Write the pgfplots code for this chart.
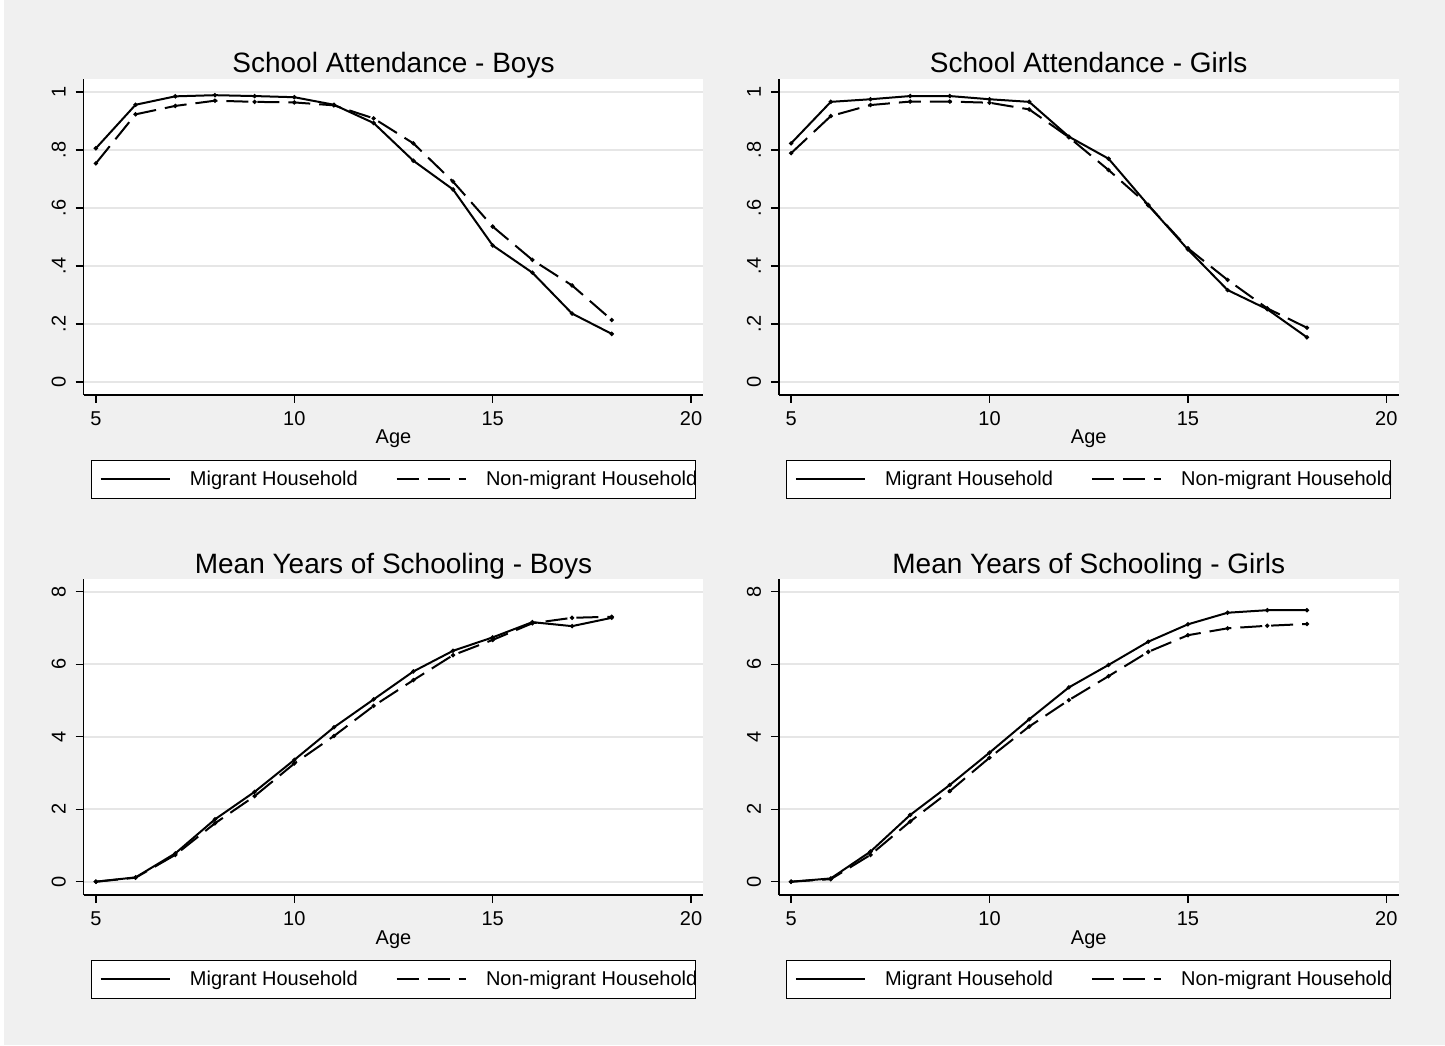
\documentclass[border=0pt]{standalone}
\usepackage{fontspec}
\setmainfont{Liberation Sans}
\usepackage{pgfplots}
\pgfplotsset{compat=1.18}
\usepackage{pgfplotstable}

\definecolor{bggray}{RGB}{240,240,240}
\definecolor{gridgray}{RGB}{230,230,230}

% school attendance, boys / girls
\pgfplotstableread{
age mig non
5 0.806 0.754
6 0.956 0.923
7 0.985 0.952
8 0.989 0.970
9 0.986 0.966
10 0.982 0.964
11 0.956 0.954
12 0.893 0.909
13 0.763 0.823
14 0.664 0.691
15 0.471 0.536
16 0.377 0.421
17 0.236 0.333
18 0.166 0.214
}\attboys
\pgfplotstableread{
age mig non
5 0.823 0.789
6 0.966 0.917
7 0.975 0.955
8 0.986 0.967
9 0.986 0.967
10 0.975 0.963
11 0.966 0.940
12 0.846 0.844
13 0.770 0.731
14 0.610 0.610
15 0.457 0.461
16 0.317 0.352
17 0.251 0.254
18 0.154 0.187
}\attgirls
% mean years of schooling, boys / girls
\pgfplotstableread{
age mig non
5 0.00 0.00
6 0.12 0.11
7 0.78 0.74
8 1.72 1.61
9 2.48 2.36
10 3.36 3.26
11 4.26 4.02
12 5.03 4.85
13 5.80 5.56
14 6.37 6.25
15 6.74 6.67
16 7.16 7.13
17 7.05 7.28
18 7.28 7.31
}\yrsboys
\pgfplotstableread{
age mig non
5 0.00 0.00
6 0.09 0.07
7 0.83 0.74
8 1.84 1.66
9 2.67 2.50
10 3.56 3.42
11 4.48 4.28
12 5.36 5.01
13 5.98 5.67
14 6.62 6.34
15 7.10 6.80
16 7.42 6.99
17 7.49 7.06
18 7.49 7.11
}\yrsgirls

\pgfplotsset{
  stata/.style={
    scale only axis, width=309.9pt, height=157.85pt,
    anchor=south west,
    xmin=4.69, xmax=20.31,
    xtick={5,10,15,20},
    axis x line=bottom, axis y line=left,
    axis line style={-, line width=0.7pt, black},
    tick align=outside,
    major tick length=4pt,
    tick style={line width=0.7pt, black},
    ymajorgrids,
    major grid style={gridgray, line width=0.8pt},
    axis background/.style={fill=white},
    /pgf/number format/assume math mode=true,
    tick label style={font=\fontsize{10}{12}\selectfont},
    xticklabel style={anchor=base, yshift=-11pt},
    yticklabel style={xshift=-4.95pt, rotate=90, anchor=base},
    xlabel={Age},
    xlabel style={at={(axis description cs:0.5,0)}, anchor=base, yshift=-24.5pt,
      font=\fontsize{10}{12}\selectfont},
    title style={at={(axis description cs:0.5,1)}, anchor=base, yshift=-2.85pt,
      font=\fontsize{14}{16}\selectfont},
    legend columns=2,
    legend style={at={(0.5,0)}, yshift=-32.5pt, anchor=north,
      draw=black, line width=0.5pt, fill=white,
      inner xsep=4.15pt, inner ysep=5.05pt,
      font=\fontsize{10}{12}\selectfont,
      nodes={inner sep=0pt},
      /tikz/every odd column/.append style={column sep=9.7pt},
      /tikz/every even column/.append style={column sep=18.9pt}},
    legend image code/.code={\draw[#1] (0pt,0pt) -- (34.5pt,0pt);},
  },
  attend/.style={ymin=-0.0448, ymax=1.0438, ytick={0,0.2,0.4,0.6,0.8,1},
    yticklabels={0,.2,.4,.6,.8,1}},
  years/.style={ymin=-0.367, ymax=8.342, ytick={0,2,4,6,8}},
  mig/.style={black, line width=1pt, solid, mark=*, mark size=0.5pt},
  non/.style={black, line width=1pt, dash pattern=on 11pt off 4.5pt,
    mark=*, mark size=0.5pt, mark options={solid}},
}
% the second legend text runs slightly past the frame, as in the original
\newcommand{\legendtexts}{\legend{Migrant Household, Non-migrant Household\kern-4.9pt}}

\begin{document}
\begin{tikzpicture}
\fill[bggray] (0pt,0pt) rectangle (722.5pt,522.5pt);
\fill[white] (0pt,0pt) rectangle (2pt,522.5pt);

\begin{axis}[stata, attend, at={(41.8pt,325pt)}, title={School Attendance - Boys}]
  \addplot[mig] table[x=age, y=mig] {\attboys};
  \addplot[non] table[x=age, y=non] {\attboys};
  \legendtexts
\end{axis}

\begin{axis}[stata, attend, at={(389.4pt,325pt)}, title={School Attendance - Girls}]
  \addplot[mig] table[x=age, y=mig] {\attgirls};
  \addplot[non] table[x=age, y=non] {\attgirls};
  \legendtexts
\end{axis}

\begin{axis}[stata, years, at={(41.8pt,75pt)}, title={Mean Years of Schooling - Boys}]
  \addplot[mig] table[x=age, y=mig] {\yrsboys};
  \addplot[non] table[x=age, y=non] {\yrsboys};
  \legendtexts
\end{axis}

\begin{axis}[stata, years, at={(389.4pt,75pt)}, title={Mean Years of Schooling - Girls}]
  \addplot[mig] table[x=age, y=mig] {\yrsgirls};
  \addplot[non] table[x=age, y=non] {\yrsgirls};
  \legendtexts
\end{axis}
\end{tikzpicture}
\end{document}
